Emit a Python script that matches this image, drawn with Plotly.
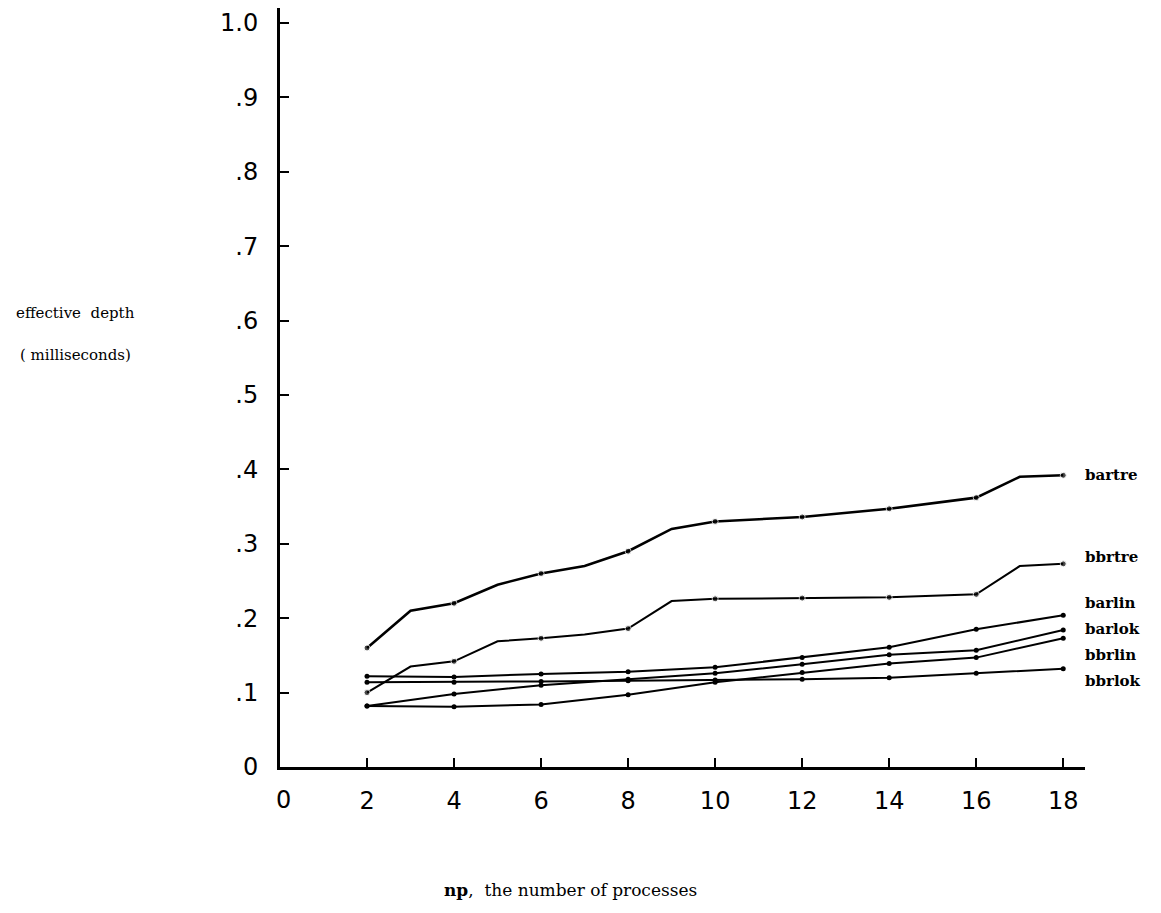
import plotly.graph_objects as go

# ---- data ----
np_fine = [2, 3, 4, 5, 6, 7, 8, 9, 10, 12, 14, 16, 17, 18]
bartre = [0.160, 0.210, 0.220, 0.245, 0.260, 0.270, 0.290, 0.320, 0.330, 0.336, 0.347, 0.362, 0.390, 0.392]
bbrtre = [0.100, 0.135, 0.142, 0.169, 0.173, 0.178, 0.186, 0.223, 0.226, 0.227, 0.228, 0.232, 0.270, 0.273]

np_even = [2, 4, 6, 8, 10, 12, 14, 16, 18]
barlin = [0.122, 0.121, 0.125, 0.128, 0.134, 0.147, 0.161, 0.185, 0.204]
barlok = [0.082, 0.098, 0.110, 0.118, 0.126, 0.138, 0.151, 0.157, 0.184]
bbrlin = [0.082, 0.081, 0.084, 0.097, 0.114, 0.127, 0.139, 0.147, 0.173]
bbrlok = [0.114, 0.114, 0.115, 0.116, 0.117, 0.118, 0.120, 0.126, 0.132]

x_ticks = [0, 2, 4, 6, 8, 10, 12, 14, 16, 18]
x_ticktext = ["0", "2", "4", "6", "8", "10", "12", "14", "16", "18"]
y_ticks = [0, 0.1, 0.2, 0.3, 0.4, 0.5, 0.6, 0.7, 0.8, 0.9, 1.0]
y_ticktext = ["0", ".1", ".2", ".3", ".4", ".5", ".6", ".7", ".8", ".9", "1.0"]

series_labels = ["bartre", "bbrtre", "barlin", "barlok", "bbrlin", "bbrlok"]
label_y = [0.392, 0.282, 0.220, 0.185, 0.151, 0.116]

W, H = 1161, 913
ml, mr, mt, mb = 280, 76, 8, 146
pw, ph = W - ml - mr, H - mt - mb

def px(x):
    return (x - ml) / pw

def py(y):
    return 1 - (y - mt) / ph

fig = go.Figure()

def marker_sizes(xs):
    return [6 if x % 2 == 0 else 0 for x in xs]

for name, ys, w in [("bartre", bartre, 2.6), ("bbrtre", bbrtre, 2.0)]:
    fig.add_trace(go.Scatter(x=np_fine, y=ys, mode="lines+markers", name=name,
                             line=dict(color="black", width=w),
                             marker=dict(color="black", size=marker_sizes(np_fine))))

for name, ys in [("barlin", barlin), ("barlok", barlok), ("bbrlin", bbrlin), ("bbrlok", bbrlok)]:
    fig.add_trace(go.Scatter(x=np_even, y=ys, mode="lines+markers", name=name,
                             line=dict(color="black", width=2.0),
                             marker=dict(color="black", size=5)))

for name, yv in zip(series_labels, label_y):
    fig.add_annotation(x=18, y=yv, xref="x", yref="y", text="<b>%s</b>" % name,
                       showarrow=False, xanchor="left", xshift=20,
                       font=dict(family="DejaVu Serif", size=15, color="black"))

serif = dict(family="DejaVu Serif", size=15, color="black")
fig.add_annotation(x=px(75), y=py(313), xref="paper", yref="paper", text="effective  depth",
                   showarrow=False, xanchor="center", yanchor="middle", font=serif)
fig.add_annotation(x=px(75), y=py(355), xref="paper", yref="paper", text="( milliseconds)",
                   showarrow=False, xanchor="center", yanchor="middle", font=serif)
fig.add_annotation(x=px(570), y=py(890), xref="paper", yref="paper",
                   text="<b>np</b>,  the number of processes",
                   showarrow=False, xanchor="center", yanchor="middle",
                   font=dict(family="DejaVu Serif", size=17, color="black"))

fig.update_layout(
    width=W, height=H,
    margin=dict(l=ml, r=mr, t=mt, b=mb),
    plot_bgcolor="white", paper_bgcolor="white",
    showlegend=False,
    xaxis=dict(range=[0, 18.5], tickvals=x_ticks[1:], ticktext=x_ticktext[1:],
               ticks="inside", ticklen=9, tickwidth=2, tickcolor="black",
               showline=True, linecolor="black", linewidth=3,
               showgrid=False, zeroline=False, ticklabelstandoff=10,
               tickfont=dict(family="DejaVu Sans", size=24, color="black")),
    yaxis=dict(range=[0, 1.02], tickvals=y_ticks, ticktext=y_ticktext,
               ticks="inside", ticklen=9, tickwidth=2, tickcolor="black",
               showline=True, linecolor="black", linewidth=3,
               showgrid=False, zeroline=False, ticklabelstandoff=14,
               tickfont=dict(family="DejaVu Sans", size=24, color="black")),
)
# x label "0" at origin
fig.add_annotation(x=0, y=0, xref="x", yref="y", text="0", showarrow=False,
                   yshift=-33, xshift=3,
                   font=dict(family="DejaVu Sans", size=24, color="black"))

fig.write_html("out.html")
